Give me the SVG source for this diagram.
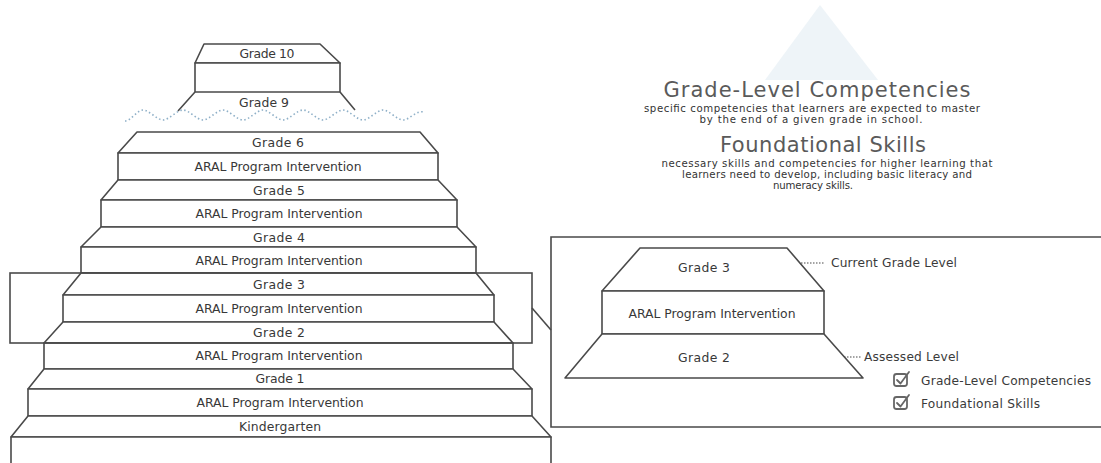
<svg xmlns="http://www.w3.org/2000/svg" width="1101" height="463" viewBox="0 0 1101 463">
<style>
.s{fill:#fff;stroke:#4a4a4a;stroke-width:1.6;stroke-linejoin:round}
.ln{fill:none;stroke:#4a4a4a;stroke-width:1.6}
.t{font-family:"DejaVu Sans","Liberation Sans",sans-serif;font-size:12.4px;fill:#383838;text-anchor:middle}
.h{font-family:"DejaVu Sans","Liberation Sans",sans-serif;font-size:21px;fill:#5a5a5a;text-anchor:middle}
.d{font-family:"DejaVu Sans","Liberation Sans",sans-serif;font-size:10.2px;fill:#333;text-anchor:middle}
.l{font-family:"DejaVu Sans","Liberation Sans",sans-serif;font-size:12.2px;fill:#3a3a3a}
.dot{fill:none;stroke:#4a4a4a;stroke-width:1.2;stroke-dasharray:1.5 1.5}
.ck{fill:none;stroke:#666;stroke-width:1.8;stroke-linecap:round;stroke-linejoin:round}
</style>
<rect width="1101" height="463" fill="#fff"/>
<polygon points="820,5 878,80 765,80" fill="#e3edf3" opacity="0.6"/>

<g id="grade10">
<polygon class="s" points="204,44 320,44 340,63 195,63"/>
<text class="t" x="267" y="58" textLength="55">Grade 10</text>
<rect class="s" x="195" y="63" width="145" height="29"/>
</g>
<g id="grade9">
<path class="ln" d="M195,92 L178,111 M340,92 L355,110"/>
<text class="t" x="264" y="107" textLength="50">Grade 9</text>
</g>
<path id="wave" d="M125,121 C131,121 137,110 143,110 C149,110 157,120 163,120 C169,120 177,110 183,110 C189,110 197,120 203,120 C209,120 217,110 223,110 C229,110 237,120 243,120 C249,120 257,110 263,110 C269,110 277,120 283,120 C289,120 297,110 303,110 C309,110 317,120 323,120 C329,120 337,110 343,110 C349,110 357,120 363,120 C369,120 377,110 383,110 C389,110 397,120 403,120 C409,120 417,110 423,112" fill="none" stroke="#8fb0c8" stroke-width="1.6" stroke-dasharray="1.5 2.5"/>

<g id="grade6">
<polygon class="s" points="137,132 420,132 438,153 118,153"/>
<text class="t" x="278" y="147" textLength="52">Grade 6</text>
</g>
<g id="aral6">
<rect class="s" x="118" y="153" width="320" height="27"/>
<text class="t" x="278" y="171" textLength="167">ARAL Program Intervention</text>
</g>
<g id="grade5">
<polygon class="s" points="118,180 438,180 457,200 101,200"/>
<text class="t" x="279" y="195" textLength="52">Grade 5</text>
</g>
<g id="aral5">
<rect class="s" x="101" y="200" width="356" height="27"/>
<text class="t" x="279" y="218" textLength="167">ARAL Program Intervention</text>
</g>
<g id="grade4">
<polygon class="s" points="101,227 457,227 476,247 81,247"/>
<text class="t" x="279" y="242" textLength="52">Grade 4</text>
</g>
<g id="aral4">
<rect class="s" x="81" y="247" width="395" height="26"/>
<text class="t" x="279" y="265" textLength="167">ARAL Program Intervention</text>
</g>
<g id="grade3">
<polygon class="s" points="81,273 476,273 494,295 63,295"/>
<text class="t" x="279" y="289" textLength="52">Grade 3</text>
</g>
<g id="aral3">
<rect class="s" x="63" y="295" width="431" height="27"/>
<text class="t" x="279" y="313" textLength="167">ARAL Program Intervention</text>
</g>
<g id="grade2">
<polygon class="s" points="63,322 494,322 513,343 44,343"/>
<text class="t" x="279" y="337" textLength="52">Grade 2</text>
</g>
<g id="aral2">
<rect class="s" x="44" y="343" width="469" height="26"/>
<text class="t" x="279" y="360" textLength="167">ARAL Program Intervention</text>
</g>
<g id="grade1">
<polygon class="s" points="44,369 513,369 532,389 28,389"/>
<text class="t" x="280" y="383" textLength="49">Grade 1</text>
</g>
<g id="aral1">
<rect class="s" x="28" y="389" width="504" height="27"/>
<text class="t" x="280" y="407" textLength="167">ARAL Program Intervention</text>
</g>
<g id="kindergarten">
<polygon class="s" points="28,416 532,416 551,437 11,437"/>
<text class="t" x="280" y="431" textLength="82">Kindergarten</text>
<rect class="s" x="11" y="437" width="540" height="40"/>
</g>

<g id="highlight">
<rect x="10" y="273" width="522" height="70" fill="none" stroke="#4a4a4a" stroke-width="1.6"/>
</g>

<g id="connectors">
<line class="ln" x1="532" y1="308" x2="551" y2="330"/>
<line class="dot" x1="783" y1="263" x2="824" y2="263"/>
<line class="dot" x1="817" y1="357" x2="861" y2="357"/>
</g>

<g id="zoombox">
<path class="ln" d="M1105,237 L551,237 L551,427 L1105,427"/>
</g>
<g id="z-grade3">
<polygon class="s" points="640,248 787,248 824,291 602,291"/>
<text class="t" x="704" y="272" textLength="52">Grade 3</text>
</g>
<g id="z-aral">
<rect class="s" x="602" y="291" width="222" height="43"/>
<text class="t" x="712" y="318" textLength="167">ARAL Program Intervention</text>
</g>
<g id="z-grade2">
<polygon class="s" points="602,334 824,334 863,378 565,378"/>
<text class="t" x="704" y="362" textLength="52">Grade 2</text>
</g>
<g id="current-label">
<text class="l" x="831" y="267" textLength="126">Current Grade Level</text>
</g>
<g id="assessed-label">
<text class="l" x="864" y="361" textLength="95">Assessed Level</text>
</g>

<g id="check1">
<rect class="ck" x="894" y="374" width="13" height="12" rx="2.5"/>
<path class="ck" d="M897,380 L900.5,383.5 L909,372"/>
<text class="l" x="921" y="385" textLength="170">Grade-Level Competencies</text>
</g>
<g id="check2">
<rect class="ck" x="894" y="397" width="13" height="12" rx="2.5"/>
<path class="ck" d="M897,403 L900.5,406.5 L909,395"/>
<text class="l" x="921" y="408" textLength="119">Foundational Skills</text>
</g>

<g id="heading1">
<text class="h" x="817" y="97" textLength="307">Grade-Level Competencies</text>
<text class="d" x="812" y="112" textLength="336">specific competencies that learners are expected to master</text>
<text class="d" x="811" y="123" textLength="223">by the end of a given grade in school.</text>
</g>
<g id="heading2">
<text class="h" x="823" y="152" textLength="206">Foundational Skills</text>
<text class="d" x="827" y="167" textLength="331">necessary skills and competencies for higher learning that</text>
<text class="d" x="827" y="178" textLength="290">learners need to develop, including basic literacy and</text>
<text class="d" x="813" y="189" textLength="80">numeracy skills.</text>
</g>
</svg>
